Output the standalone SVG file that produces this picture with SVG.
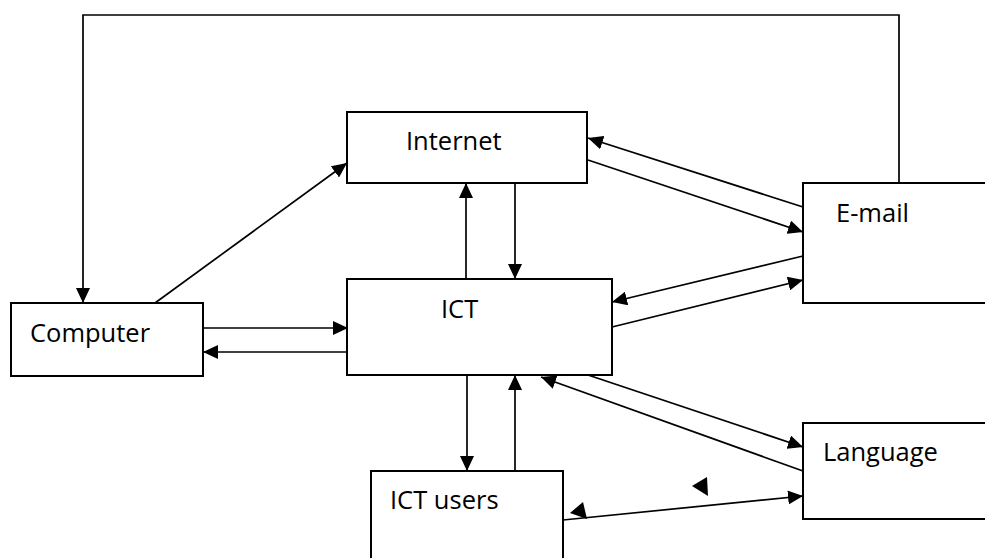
<svg xmlns="http://www.w3.org/2000/svg" width="985" height="558" viewBox="0 0 985 558">
<defs>
<marker id="ah" markerUnits="userSpaceOnUse" markerWidth="15" markerHeight="14" refX="15" refY="7" orient="auto">
<path d="M0,0 L15,7 L0,14 z" fill="#000"/>
</marker>
</defs>
<style>
.box{fill:#fff;stroke:#000;stroke-width:2}
.lbl{font-family:"Open Sans","Liberation Sans",sans-serif;font-size:25.5px;fill:#000}
.c{fill:none;stroke:#000;stroke-width:1.7}
.a{marker-end:url(#ah)}
</style>
<rect width="985" height="558" fill="#fff"/>
<g id="connectors">
<polyline class="c a" points="899,183 899,15 83,15 83,303"/>
<line class="c a" x1="155" y1="303" x2="347" y2="163"/>
<line class="c a" x1="803" y1="207" x2="588" y2="138"/>
<line class="c a" x1="588" y1="160" x2="803" y2="232"/>
<line class="c a" x1="803" y1="256" x2="612" y2="302"/>
<line class="c a" x1="612" y1="327" x2="803" y2="280"/>
<line class="c a" x1="203" y1="328" x2="348" y2="328"/>
<line class="c a" x1="348" y1="352" x2="203" y2="352"/>
<line class="c a" x1="466" y1="279" x2="466" y2="183"/>
<line class="c a" x1="515" y1="183" x2="515" y2="279"/>
<line class="c a" x1="467" y1="375" x2="467" y2="471"/>
<line class="c a" x1="515" y1="471" x2="515" y2="375"/>
<line class="c a" x1="588" y1="375" x2="803" y2="447"/>
<line class="c a" x1="803" y1="471" x2="541" y2="377"/>
<line class="c a" x1="563" y1="520" x2="803" y2="496"/>
<polygon points="570,513 583,502 587,519" fill="#000"/>
<polygon points="692,486 707,477 708,496" fill="#000"/>
</g>
<g id="internet">
<rect class="box" x="347" y="112" width="240" height="71"/>
<text class="lbl" x="406" y="150">Internet</text>
</g>
<g id="email">
<rect class="box" x="803" y="183" width="200" height="120"/>
<text class="lbl" x="836" y="222">E-mail</text>
</g>
<g id="ict">
<rect class="box" x="347" y="279" width="265" height="96"/>
<text class="lbl" x="441" y="318">ICT</text>
</g>
<g id="computer">
<rect class="box" x="11" y="303" width="192" height="73"/>
<text class="lbl" x="30" y="342">Computer</text>
</g>
<g id="language">
<rect class="box" x="803" y="423" width="200" height="96"/>
<text class="lbl" x="823" y="461">Language</text>
</g>
<g id="ictusers">
<rect class="box" x="371" y="471" width="192" height="100"/>
<text class="lbl" x="390" y="509">ICT users</text>
</g>
</svg>
